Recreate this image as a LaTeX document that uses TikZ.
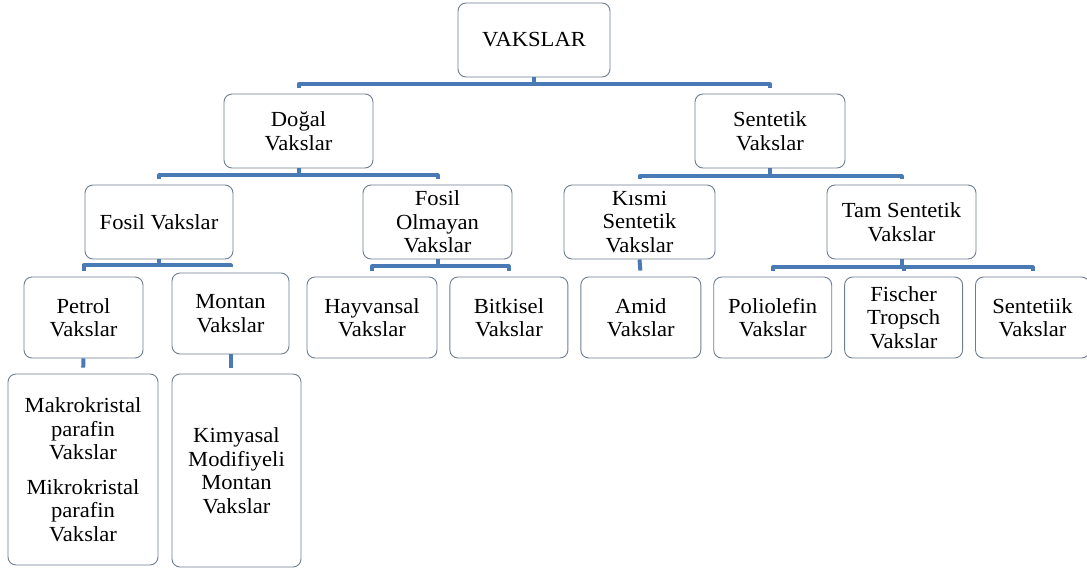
\documentclass[tikz,border=0pt]{standalone}
\usepackage{fontspec}
\setmainfont{Liberation Serif}[FakeStretch=1.05]
\usepackage{xcolor}
\usepackage{tikz}
\usetikzlibrary{positioning}
\definecolor{cLink}{RGB}{74,122,181}
\definecolor{cEdge}{RGB}{110,126,145}
\tikzset{
  wax/.style={draw=cEdge, line width=0.9pt, fill=white, rounded corners=8pt,
              align=center, inner sep=2pt, text=black,
              font=\fontsize{21.5}{23.5}\selectfont},
  waxtop/.style={wax, minimum height=74pt},
  waxleaf/.style={wax, minimum height=81pt},
  link/.style={draw=cLink, line width=4pt, line join=round, shorten >=6pt},
}

\begin{document}
\begin{tikzpicture}[x=1pt, y=-1pt, node distance=12pt]
  \useasboundingbox (0,0) rectangle (1087,574);
  \node[waxtop, minimum width=152pt] (root) at (534,40) {VAKSLAR};
  \node[waxtop, minimum width=149pt] (dogal) at (298.5,131) {Doğal\\Vakslar};
  \node[waxtop, minimum width=150pt] (sent) at (770,131) {Sentetik\\Vakslar};
  \node[waxtop, minimum width=148pt] (fosil) at (159,222) {Fosil Vakslar};
  \node[waxtop, minimum width=149pt] (nonfosil) at (437.5,222) {Fosil\\Olmayan\\Vakslar};
  \node[waxtop, minimum width=151pt] (kismi) at (639.5,222) {Kısmi\\Sentetik\\Vakslar};
  \node[waxtop, minimum width=149pt] (tam) at (901.5,222) {Tam Sentetik\\Vakslar};
  \node[waxleaf, minimum width=119pt] (petrol) at (83.5,317.5) {Petrol\\Vakslar};
  \node[waxleaf, minimum width=117pt] (montan) at (230.5,313.5) {Montan\\Vakslar};
  \node[waxleaf, minimum width=130pt] (hayvan) at (372,317.5) {Hayvansal\\Vakslar};
  \node[waxleaf, minimum width=118pt, right=of hayvan] (bitki) {Bitkisel\\Vakslar};
  \node[waxleaf, minimum width=120pt, right=of bitki] (amid) {Amid\\Vakslar};
  \node[waxleaf, minimum width=118pt, right=of amid] (poli) {Poliolefin\\Vakslar};
  \node[waxleaf, minimum width=118pt, right=of poli] (fischer) {Fischer\\Tropsch\\Vakslar};
  \node[waxleaf, minimum width=114pt, right=of fischer] (sentii) {Sentetiik\\Vakslar};
  \node[wax, minimum width=150pt, minimum height=191pt] (makro) at (83,469.5)
    {Makrokristal\\parafin\\Vakslar\\[11pt]Mikrokristal\\parafin\\Vakslar};
  \node[wax, minimum width=129pt, minimum height=193pt] (kimya) at (236.5,470.5)
    {Kimyasal\\Modifiyeli\\Montan\\Vakslar};
  \draw[link] (root.south) -- ++(0,7) -| (dogal.north);
  \draw[link] (root.south) -- ++(0,7) -| (sent.north);
  \draw[link] (dogal.south) -- ++(0,7) -| (fosil.north);
  \draw[link] (dogal.south) -- ++(0,7) -| (nonfosil.north);
  \draw[link] (sent.south) -- ++(0,8) -| (kismi.north);
  \draw[link] (sent.south) -- ++(0,8) -| (tam.north);
  \draw[link] (fosil.south) -- ++(0,6) -| (petrol.north);
  \draw[link] (fosil.south) -- ++(0,6) -| (montan.north);
  \draw[link] (nonfosil.south) -- ++(0,7) -| (hayvan.north);
  \draw[link] (nonfosil.south) -- ++(0,7) -| (bitki.north);
  \draw[link] (kismi.south) -- (amid.north);
  \draw[link] (tam.south) -- ++(0,8) -| (poli.north);
  \draw[link] (tam.south) -- ++(0,8) -| (fischer.north);
  \draw[link] (tam.south) -- ++(0,8) -| (sentii.north);
  \draw[link] (petrol.south) -- (makro.north);
  \draw[link] (montan.south) -- (montan.south |- kimya.north);
\end{tikzpicture}
\end{document}
